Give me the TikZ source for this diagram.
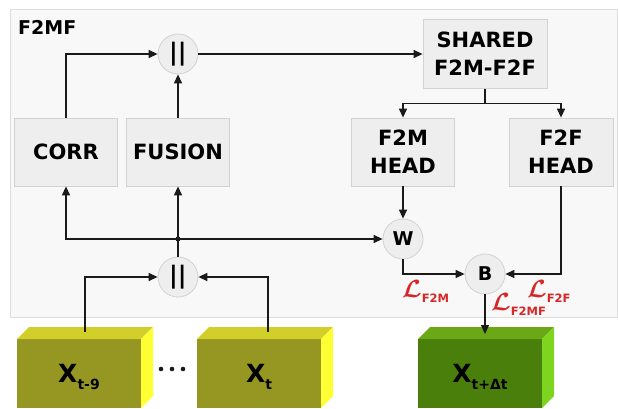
\documentclass[tikz,border=0pt]{standalone}
\usepackage{fontspec}
\setmainfont{DejaVu Sans}
\usetikzlibrary{arrows.meta,calc}
\definecolor{panelfill}{HTML}{F8F8F8}
\definecolor{panelline}{HTML}{DDDDDD}
\definecolor{boxfill}{HTML}{EEEEEE}
\definecolor{boxline}{HTML}{D2D2D2}
\definecolor{lossred}{HTML}{D62728}
\definecolor{olfront}{HTML}{969622}
\definecolor{oltop}{HTML}{D2CF2A}
\definecolor{olside}{HTML}{FFFF33}
\definecolor{grfront}{HTML}{4A7F0C}
\definecolor{grtop}{HTML}{6AA816}
\definecolor{grside}{HTML}{7ED41E}
\definecolor{ink}{HTML}{1A1A1A}
\begin{document}
\begin{tikzpicture}[x=1pt,y=-1pt,
 blk/.style={draw=boxline, fill=boxfill, line width=0.8pt, minimum width=103pt, minimum height=68pt, align=center, inner sep=0pt, font=\fontsize{21}{28}\selectfont\bfseries},
 op/.style={circle, draw=boxline, fill=boxfill, line width=0.8pt, minimum size=40pt, inner sep=0pt, font=\fontsize{19}{19}\selectfont\bfseries},
 cat/.style={op, font=\fontsize{24}{24}\selectfont\bfseries},
 arr/.style={draw=ink, line width=1.3pt, -{Triangle[length=9pt,width=8pt]}},
 ln/.style={draw=ink, line width=1.3pt},
 loss/.style={text=lossred, inner sep=0pt, anchor=base west, font=\bfseries},
 xlab/.style={inner sep=0pt, anchor=base, font=\bfseries, text=black},
]
\useasboundingbox (0,0) rectangle (618,408);
% panel
\draw[fill=panelfill, draw=panelline, line width=0.8pt] (10,9) rectangle (617,317);
\node[anchor=base west, inner sep=0pt, font=\fontsize{19}{19}\selectfont\bfseries] (title) at (18,34) {F2MF};

% blocks
\node[blk] (corr) at (66,152) {CORR};
\node[blk] (fusion) at (178,152) {FUSION};
\node[blk, minimum width=124pt, minimum height=69pt] (shared) at (485,54) {SHARED\\F2M-F2F};
\node[blk] (f2m) at (403,152) {F2M\\HEAD};
\node[blk, minimum width=104pt] (f2f) at (561,152) {F2F\\HEAD};

% operators
\node[cat] (cat1) at (178,54) {||};
\node[cat] (cat2) at (178,277) {||};
\node[op] (w) at (403,239) {W};
\node[op] (b) at (485,274) {B};

% cubes
\fill[olfront] (17,339) rectangle (141,408);
\fill[oltop] (17,339) -- (29,327) -- (153,327) -- (141,339) -- cycle;
\fill[olside] (141,339) -- (153,327) -- (153,396) -- (141,408) -- cycle;
\node[xlab] (x1) at (79,382) {{\fontsize{25}{25}\selectfont X}\raisebox{-7pt}{\fontsize{14}{14}\selectfont t-9}};

\fill[olfront] (197,339) rectangle (321,408);
\fill[oltop] (197,339) -- (209,327) -- (333,327) -- (321,339) -- cycle;
\fill[olside] (321,339) -- (333,327) -- (333,396) -- (321,408) -- cycle;
\node[xlab] (x2) at (259,382) {{\fontsize{25}{25}\selectfont X}\raisebox{-7pt}{\fontsize{14}{14}\selectfont t}};

\fill[grfront] (418,339) rectangle (542,408);
\fill[grtop] (418,339) -- (430,327) -- (554,327) -- (542,339) -- cycle;
\fill[grside] (542,339) -- (554,327) -- (554,396) -- (542,408) -- cycle;
\node[xlab] (x3) at (480,382) {{\fontsize{25}{25}\selectfont X}\raisebox{-7pt}{\fontsize{14}{14}\selectfont t+Δt}};

% dots
\fill[ink] (161,369) circle (2.3);
\fill[ink] (172,369) circle (2.3);
\fill[ink] (183,369) circle (2.3);

\coordinate (c1) at (85,332);
\coordinate (c2) at (268,332);
\coordinate (c3) at (485,334);
\coordinate (j) at (178,239);

% connectors
\draw[arr] (c1) |- (cat2.west);
\draw[arr] (c2) |- (cat2.east);
\draw[ln] (cat2.north) -- (j);
\draw[arr] (j) -| (corr.south);
\draw[arr] (j) -- (fusion.south);
\draw[arr] (j) -- (w.west);
\fill[ink] (j) circle (2.6);
\draw[arr] (corr.north) |- (cat1.west);
\draw[arr] (fusion.north) -- (cat1.south);
\draw[arr] (cat1.east) -- (shared.west);
\draw[arr] (shared.south) -- ++(0,14.5) -| (f2m.north);
\draw[arr] (shared.south) -- ++(0,14.5) -| (f2f.north);
\draw[arr] (f2m.south) -- (w.north);
\draw[arr] (w.south) |- (b.west);
\draw[arr] (f2f.south) |- (b.east);
\draw[arr] (b.south) -- (c3);

% losses
\node[loss] (lf2m) at (402,297) {{\fontsize{23}{23}\selectfont\boldmath$\mathcal{L}$}\raisebox{-5pt}{\fontsize{11.5}{11.5}\selectfont F2M}};
\node[loss] (lf2f) at (527,297) {{\fontsize{23}{23}\selectfont\boldmath$\mathcal{L}$}\raisebox{-5pt}{\fontsize{11.5}{11.5}\selectfont F2F}};
\node[loss] (lf2mf) at (491,310) {{\fontsize{23}{23}\selectfont\boldmath$\mathcal{L}$}\raisebox{-5pt}{\fontsize{11.5}{11.5}\selectfont F2MF}};
\end{tikzpicture}
\end{document}
